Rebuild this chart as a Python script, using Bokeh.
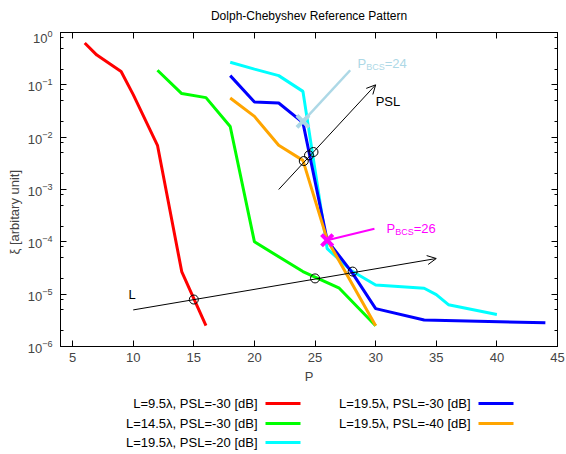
import math
from bokeh.plotting import figure
from bokeh.models import (Range1d, FixedTicker, LinearAxis, Arrow, OpenHead, Title,
                          CustomJSTickFormatter)
from bokeh.layouts import column
from bokeh.embed import file_html
from bokeh.resources import INLINE
from bokeh.core.properties import value

FONT = "Liberation Sans"
TITLE = "Dolph-Chebyshev Reference Pattern"

# ---------------- data ----------------
red_x = [6, 7, 9, 10, 12, 14, 16]
red_y = [0.63, 0.37, 0.18, 0.065, 0.007, 2.7e-5, 2.5e-6]

green_x = [12, 14, 16, 18, 20, 24, 27, 30]
green_y = [0.19, 0.068, 0.057, 0.016, 1.0e-4, 2.7e-5, 1.3e-5, 2.5e-6]

cyan_x = [18, 20, 22, 24, 26, 28, 30, 34, 35, 36, 40]
cyan_y = [0.27, 0.2, 0.15, 0.075, 7.4e-5, 2.8e-5, 1.5e-5, 1.3e-5, 9.8e-6, 6.3e-6, 4.1e-6]

blue_x = [18, 20, 22, 24, 26, 28, 30, 34, 44]
blue_y = [0.15, 0.047, 0.045, 0.019, 1.07e-4, 2.7e-5, 5.3e-6, 3.2e-6, 2.85e-6]

orange_x = [18, 20, 22, 24, 26, 30]
orange_y = [0.056, 0.025, 0.007, 3.6e-3, 1.1e-4, 2.5e-6]

series_labels = ["L=9.5λ, PSL=-30 [dB]", "L=14.5λ, PSL=-30 [dB]", "L=19.5λ, PSL=-20 [dB]",
                 "L=19.5λ, PSL=-30 [dB]", "L=19.5λ, PSL=-40 [dB]"]
series_colors = ["#ff0000", "#00ff00", "#00ffff", "#0000ff", "#ffa500"]
series_x = [red_x, green_x, cyan_x, blue_x, orange_x]
series_y = [red_y, green_y, cyan_y, blue_y, orange_y]

# annotations
psl_arrow = [22, 1e-3, 30, 0.1]
l_arrow = [10, 5e-6, 35, 4.8e-5]
circ_x = [15, 25, 28.1, 24.07, 24.5, 24.87]
circ_y = [7.9e-6, 2.0e-5, 2.7e-5, 3.5e-3, 4.5e-3, 5.2e-3]
bcs24_mark = [24, 0.02]
bcs24_line_x = [24, 27.9]
bcs24_line_y = [0.02, 0.19]
bcs24_text = [28.5, 0.255]
bcs26_mark = [26, 1.07e-4]
bcs26_line_x = [26, 29.9]
bcs26_line_y = [1.07e-4, 1.78e-4]
bcs26_text = [30.9, 1.79e-4]
psl_text = [30.0, 0.049]
l_text = [9.6, 9.8e-6]

x_ticks = [5, 10, 15, 20, 25, 30, 35, 40, 45]
y_ticks = [1e-6, 1e-5, 1e-4, 1e-3, 1e-2, 1e-1, 1]
y_minor = [m * 10.0 ** e for e in range(-6, 0) for m in (2, 5, 8)]

# ---------------- header (title) ----------------
head_h = 30
hd = figure(frame_width=497, frame_height=head_h, x_range=Range1d(60, 557), y_range=Range1d(head_h, 0),
            min_border_left=60, min_border_right=9, min_border_top=0, min_border_bottom=0,
            output_backend="svg", toolbar_location=None)
hd.axis.visible = False
hd.grid.visible = False
hd.outline_line_color = None
hd.text([308.5], [15.5], text=[TITLE], text_font=value(FONT), text_font_size="12px",
        text_align="center", text_baseline="middle", text_color="black")

# ---------------- main figure ----------------
p = figure(x_range=Range1d(4, 45), y_range=Range1d(1e-6, 1), y_axis_type="log",
           frame_width=497, frame_height=314,
           min_border_left=60, min_border_right=9, min_border_top=2, min_border_bottom=38,
           output_backend="svg", toolbar_location=None)
p.grid.visible = False
p.outline_line_color = "black"
p.outline_line_width = 1

xa = p.xaxis[0]
xa.ticker = FixedTicker(ticks=x_ticks, minor_ticks=[])
xa.axis_label = "P"
ya = p.yaxis[0]
ya.ticker = FixedTicker(ticks=y_ticks, minor_ticks=y_minor)

for ax in (xa, ya):
    ax.major_tick_in = 6
    ax.major_tick_out = 0
    ax.minor_tick_in = 3
    ax.minor_tick_out = 0
    ax.major_label_text_font = FONT
    ax.major_label_text_font_size = "13px"
    ax.axis_label_text_font = FONT
    ax.axis_label_text_font_size = "13px"
    ax.axis_label_text_font_style = "normal"
    ax.axis_line_color = "black"
    ax.major_tick_line_color = "black"
    ax.minor_tick_line_color = "black"
xa.major_label_standoff = 6
xa.axis_label_standoff = 4
ya.major_label_standoff = 8

blank = "return ''"
top = LinearAxis(ticker=FixedTicker(ticks=x_ticks, minor_ticks=[]),
                 formatter=CustomJSTickFormatter(code=blank),
                 major_label_text_font_size="1px", major_label_standoff=0,
                 major_tick_in=6, major_tick_out=0, minor_tick_in=0, minor_tick_out=0)
right = LinearAxis(ticker=FixedTicker(ticks=y_ticks, minor_ticks=y_minor),
                   formatter=CustomJSTickFormatter(code=blank),
                   major_label_text_font_size="1px", major_label_standoff=0,
                   major_tick_in=6, major_tick_out=0, minor_tick_in=3, minor_tick_out=0)
p.add_layout(top, "above")
p.add_layout(right, "right")

ylab = Title(text="ξ [arbitary unit]", align="left", offset=92, standoff=6,
             text_font=FONT, text_font_size="13px", text_font_style="normal")
p.add_layout(ylab, "left")

# light-blue BCS=24 pointer line
p.line(bcs24_line_x, bcs24_line_y, line_color="#add8e6", line_width=2.5)

for xs, ys, c in zip(series_x, series_y, series_colors):
    p.line(xs, ys, line_color=c, line_width=3)

p.scatter([bcs24_mark[0]], [bcs24_mark[1]], marker="x", size=17, line_width=4,
          line_color="#add8e6")

# magenta BCS=26 marker
p.line(bcs26_line_x, bcs26_line_y, line_color="#ff00ff", line_width=2)
p.scatter([bcs26_mark[0]], [bcs26_mark[1]], marker="x", size=16, line_width=4,
          line_color="#ff00ff")

for a in (psl_arrow, l_arrow):
    p.add_layout(Arrow(end=OpenHead(size=9, line_width=1, line_color="black"),
                       x_start=a[0], y_start=a[1], x_end=a[2], y_end=a[3],
                       line_color="black", line_width=1))

p.scatter(circ_x, circ_y, marker="circle", size=9, fill_color=None,
          line_color="black", line_width=1)

def sub_label(pos, num, color):
    p.text([pos[0]], [pos[1]], text=["P"], text_color=color, text_font=value(FONT),
           text_font_size="13px", text_baseline="alphabetic", text_align="left")
    p.text([pos[0]], [pos[1]], text=["BCS"], text_color=color, text_font=value(FONT),
           text_font_size="9px", text_baseline="alphabetic", text_align="left",
           x_offset=8.7, y_offset=3)
    p.text([pos[0]], [pos[1]], text=["=" + num], text_color=color, text_font=value(FONT),
           text_font_size="13px", text_baseline="alphabetic", text_align="left",
           x_offset=27.2)

sub_label(bcs24_text, "24", "#add8e6")
sub_label(bcs26_text, "26", "#ff00ff")

p.text([psl_text[0]], [psl_text[1]], text=["PSL"], text_font=value(FONT), text_font_size="13px",
       text_baseline="middle", text_align="left", text_color="black")
p.text([l_text[0]], [l_text[1]], text=["L"], text_font=value(FONT), text_font_size="13px",
       text_baseline="middle", text_align="left", text_color="black")

# ---------------- legend (below, labels right-aligned, sample to the right) ----------------
# legend panel uses pixel-like coordinates; its frame is aligned with the main frame (60..557)
leg_h = 70
lg = figure(frame_width=497, frame_height=leg_h, x_range=Range1d(60, 557), y_range=Range1d(leg_h, 0),
            min_border_left=60, min_border_right=9, min_border_top=0, min_border_bottom=0,
            output_backend="svg", toolbar_location=None)
lg.axis.visible = False
lg.grid.visible = False
lg.outline_line_color = None
row_y = [17, 37, 56]
col_text_right = [257, 470]
for i, (lab, c) in enumerate(zip(series_labels, series_colors)):
    col = 0 if i < 3 else 1
    row = i if i < 3 else i - 3
    yy = row_y[row]
    xr = col_text_right[col]
    lg.text([xr], [yy], text=[lab], text_font=value(FONT), text_font_size="13px",
            text_align="right", text_baseline="middle", text_color="black")
    lg.segment([xr + 8], [yy], [xr + 43], [yy], line_color=c, line_width=3)

layout = column(hd, p, lg, spacing=0)
open("out.html", "w").write(file_html(layout, INLINE))
